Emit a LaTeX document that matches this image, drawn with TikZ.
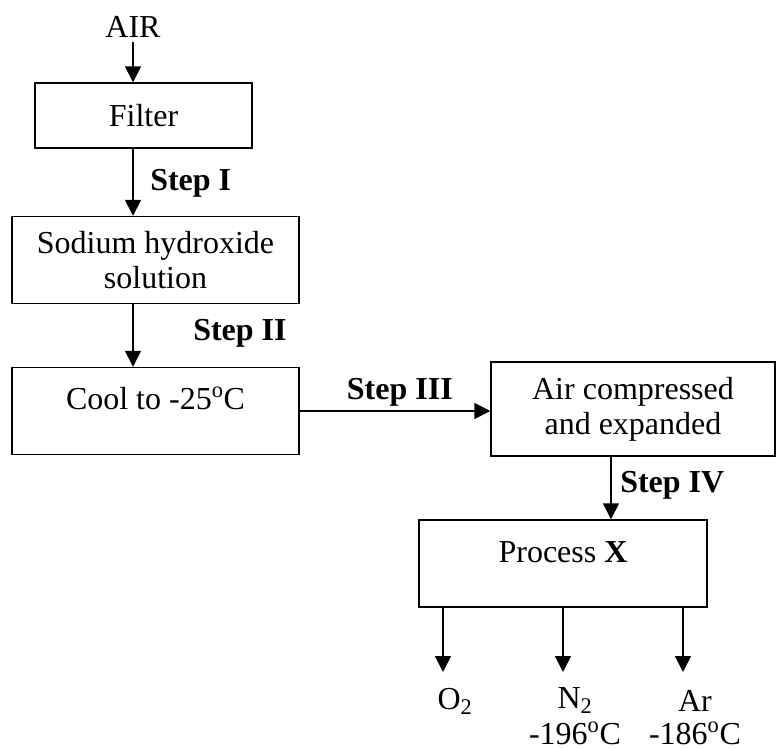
\documentclass[tikz,border=0pt]{standalone}
\usepackage{fontspec}
\setmainfont{Liberation Serif}
\usetikzlibrary{arrows.meta}

\begin{document}
\begin{tikzpicture}[x=0.75pt,y=-0.75pt,
  every node/.style={font=\fontsize{24}{26}\selectfont,inner sep=0pt},
  stage/.style={draw,line width=1.1pt},
  steplabel/.style={font=\fontsize{24}{26}\selectfont\bfseries},
  flow/.style={line width=1.3pt,-{Triangle[length=12pt,width=12pt]}}]
  \useasboundingbox (0,0) rectangle (776,750);
  % boxes
  \node (air) at (133,27) {AIR};
  \node[stage,minimum width=217*0.75pt,minimum height=65*0.75pt] (filter) at (143.5,115.5) {Filter};
  \node[stage,minimum width=287*0.75pt,minimum height=87*0.75pt,align=center] (sodium) at (155.5,260) {Sodium hydroxide\\solution};
  \node[stage,minimum width=287*0.75pt,minimum height=87*0.75pt] (cool) at (155.5,411) {};
  \node (cooltext) at (155.5,398) {Cool to -25\textsuperscript{o}C};
  \node[stage,minimum width=284*0.75pt,minimum height=94*0.75pt,align=center] (comp) at (633,409) {Air compressed\\and expanded};
  \node[stage,minimum width=288*0.75pt,minimum height=87*0.75pt] (proc) at (563,563.5) {};
  \node (proctext) at (563,552) {Process \textbf{X}};
  % products
  \node (oxy) at (455,701) {O\textsubscript{2}};
  \node (nit) at (575,701) {N\textsubscript{2}};
  \node (arg) at (695,701) {Ar};
  \node (nitbp) at (575,733) {-196\textsuperscript{o}C};
  \node (argbp) at (695,733) {-186\textsuperscript{o}C};
  % step labels
  \node[steplabel,anchor=west] (s1) at (150,183) {Step I};
  \node[steplabel,anchor=west] (s2) at (193,333) {Step II};
  \node[steplabel,anchor=east] (s3) at (453,392) {Step III};
  \node[steplabel,anchor=west] (s4) at (620,485) {Step IV};
  % arrow ends
  \coordinate (down) at (611,0);
  \coordinate (e1) at (443,672);
  \coordinate (e2) at (563,672);
  \coordinate (e3) at (683,672);
  % arrows
  \draw[flow] ([yshift=-3pt]air.south) -- (air |- filter.north);
  \draw[flow] (air |- filter.south) -- (air |- sodium.north);
  \draw[flow] (air |- sodium.south) -- (air |- cool.north);
  \draw[flow] (cool.east) -- (cool.east -| comp.west);
  \draw[flow] (down |- comp.south) -- (down |- proc.north);
  \draw[flow] (e1 |- proc.south) -- (e1);
  \draw[flow] (e2 |- proc.south) -- (e2);
  \draw[flow] (e3 |- proc.south) -- (e3);
\end{tikzpicture}
\end{document}
